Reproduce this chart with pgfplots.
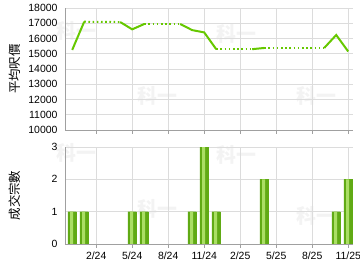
\documentclass[border=0pt]{standalone}
\usepackage{pgfplots}
\pgfplotsset{compat=1.18}
\usepackage{fontspec}
\setmainfont{Liberation Sans}
\newfontfamily\cjk{Noto Sans CJK TC}
\definecolor{lgreen}{RGB}{102,200,0}
\definecolor{bdark}{RGB}{96,170,20}
\definecolor{blight}{RGB}{170,222,100}
\definecolor{gridc}{RGB}{220,220,220}
\definecolor{axc}{RGB}{160,160,160}
\definecolor{wm}{RGB}{243,243,243}
\begin{document}
\begin{tikzpicture}
\useasboundingbox (0bp,0bp) rectangle (360bp,270bp);
% watermarks
\foreach \px/\py in {76/239, 157/174, 236/236, 316/174, 76/117, 157/61, 236/115, 316/54}
  \node[text=wm, font=\cjk\bfseries\fontsize{20}{20}\selectfont] at (\px bp,\py bp) {科一};
\pgfplotsset{
  every axis/.append style={
    scale only axis, width=288bp,
    xmin=-0.6, xmax=23.4,
    xtick={2,5,8,11,14,17,20,23},
    grid=major, major grid style={gridc, line width=0.8bp},
    axis x line*=bottom, axis y line*=left,
    axis line style={axc, line width=0.9bp},
    font=\fontsize{10.5}{12}\selectfont,
    /pgf/number format/assume math mode=true,
    /pgf/number format/set thousands separator={},
    scaled y ticks=false,
    ytick style={draw=none},
    tick align=outside, major tick length=4bp,
    xtick style={axc, line width=0.8bp},
    ylabel style={at={(axis description cs:-0.1736,0.5)}, anchor=center, rotate=0},
  }
}
\begin{axis}[at={(65bp,140bp)}, anchor=south west, height=122bp,
  ymin=10000, ymax=18000, ytick={10000,11000,...,18000},
  xticklabels={}, 
  ylabel={\cjk\fontsize{12.5}{13}\selectfont 平均呎價},
]
\addplot[lgreen, line width=2bp] coordinates {(0,15250) (1,17100)};
\addplot[lgreen, line width=2bp] coordinates {(4,17080) (5,16600) (6,16950)};
\addplot[lgreen, line width=2bp] coordinates {(9,16950) (10,16550) (11,16400) (12,15300)};
\addplot[lgreen, line width=2bp] coordinates {(15,15300) (16,15380)};
\addplot[lgreen, line width=2bp] coordinates {(21,15380) (22,16230) (23,15150)};
\addplot[lgreen, line width=2bp, dash pattern=on 1.6bp off 2.6bp] coordinates {(1,17100) (4,17080)};
\addplot[lgreen, line width=2bp, dash pattern=on 1.6bp off 2.6bp] coordinates {(6,16950) (9,16950)};
\addplot[lgreen, line width=2bp, dash pattern=on 1.6bp off 2.6bp] coordinates {(12,15300) (15,15300)};
\addplot[lgreen, line width=2bp, dash pattern=on 1.6bp off 2.6bp] coordinates {(16,15380) (21,15380)};
\end{axis}
\begin{axis}[at={(65bp,26bp)}, anchor=south west, height=97bp,
  ymin=0, ymax=3, ytick={0,1,2,3},
  xticklabels={2/24,5/24,8/24,11/24,2/25,5/25,8/25,11/25},
  ylabel={\cjk\fontsize{12.5}{13}\selectfont 成交宗數},
]
\addplot[ybar, bar width=8.5bp, bar shift=0pt, draw=bdark, line width=0.3bp,
  fill=bdark] coordinates {
  (0,1) (1,1) (5,1) (6,1) (10,1) (11,3) (12,1) (16,2) (22,1) (23,2)};
\addplot[ybar, bar width=3.2bp, bar shift=-0.6bp, draw=none,
  fill=blight] coordinates {
  (0,1) (1,1) (5,1) (6,1) (10,1) (11,3) (12,1) (16,2) (22,1) (23,2)};
\end{axis}
\end{tikzpicture}
\end{document}
